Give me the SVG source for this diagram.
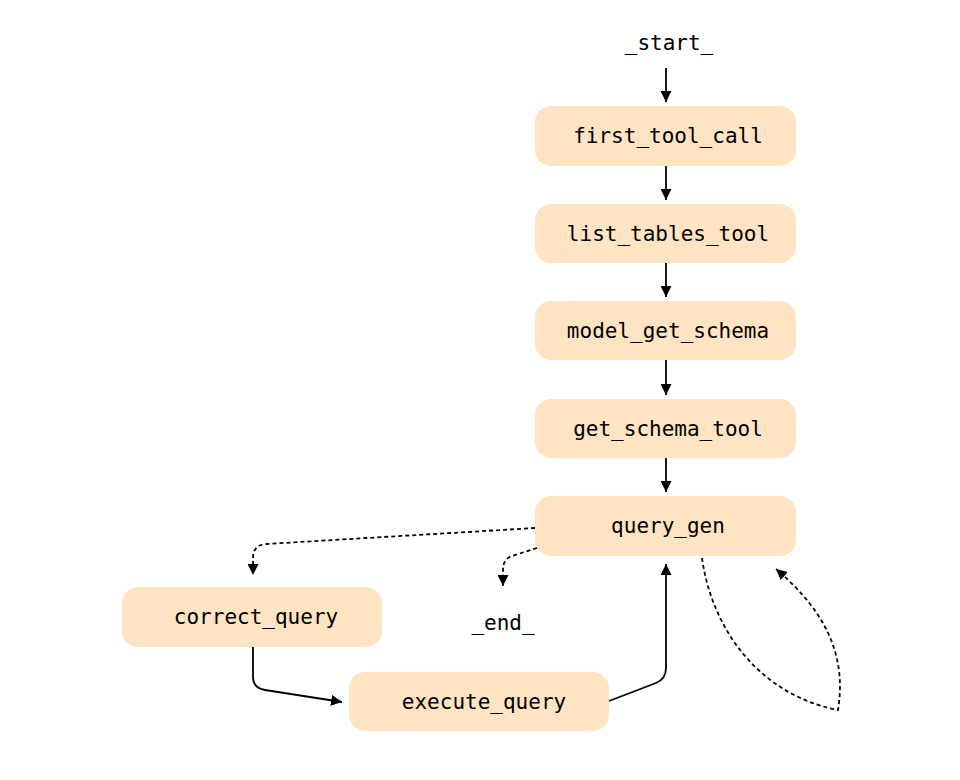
<svg xmlns="http://www.w3.org/2000/svg" width="960" height="780" viewBox="0 0 960 780">
<style>
.node rect{fill:#ffe4c4;stroke:none}
text{font-family:"DejaVu Sans Mono","Liberation Mono",monospace;font-size:21px;fill:#000;text-anchor:middle}
.e{fill:none;stroke:#000;stroke-width:1.8}
.d{stroke-dasharray:4,3}
</style>
<defs>
<marker id="ah" markerUnits="userSpaceOnUse" markerWidth="11" markerHeight="11" viewBox="0 0 10 10" refX="10" refY="5" orient="auto">
<path d="M0,0 L10,5 L0,10 z" fill="#000"/>
</marker>
</defs>
<rect width="960" height="780" fill="#fff"/>
<g id="start"><text x="669" y="50">_start_</text></g>
<g id="first_tool_call" class="node"><rect x="535" y="106" width="261" height="60" rx="16"/><text x="668" y="143">first_tool_call</text></g>
<g id="list_tables_tool" class="node"><rect x="535" y="204" width="261" height="59" rx="16"/><text x="668" y="241">list_tables_tool</text></g>
<g id="model_get_schema" class="node"><rect x="535" y="301" width="261" height="59" rx="16"/><text x="668" y="338">model_get_schema</text></g>
<g id="get_schema_tool" class="node"><rect x="535" y="399" width="261" height="59" rx="16"/><text x="668" y="436">get_schema_tool</text></g>
<g id="query_gen" class="node"><rect x="535" y="496" width="261" height="60" rx="16"/><text x="668" y="533">query_gen</text></g>
<g id="correct_query" class="node"><rect x="122" y="587" width="260" height="60" rx="16"/><text x="256" y="624">correct_query</text></g>
<g id="execute_query" class="node"><rect x="349" y="672" width="260" height="59" rx="16"/><text x="484" y="709">execute_query</text></g>
<g id="end"><text x="503" y="630">_end_</text></g>
<g id="edges">
<path class="e" d="M666,68 L666,102" marker-end="url(#ah)"/>
<path class="e" d="M666,166 L666,200" marker-end="url(#ah)"/>
<path class="e" d="M666,263 L666,297" marker-end="url(#ah)"/>
<path class="e" d="M666,360 L666,395" marker-end="url(#ah)"/>
<path class="e" d="M666,458 L666,492" marker-end="url(#ah)"/>
<path class="e d" d="M535,528 L266,544 Q253,545 253,558 L253,575" marker-end="url(#ah)"/>
<path class="e d" d="M537,548 L512,556 Q503,559 503,570 L503,586" marker-end="url(#ah)"/>
<path class="e" d="M609,701 L656,683 Q666,679 666,668 L666,564" marker-end="url(#ah)"/>
<path class="e" d="M253,647 L253,677 Q253,688 265,690 L342,702" marker-end="url(#ah)"/>
<path class="e d" d="M702,558 C712,630 760,695 838,710 C846,660 830,615 776,569" marker-end="url(#ah)"/>
</g>
</svg>
